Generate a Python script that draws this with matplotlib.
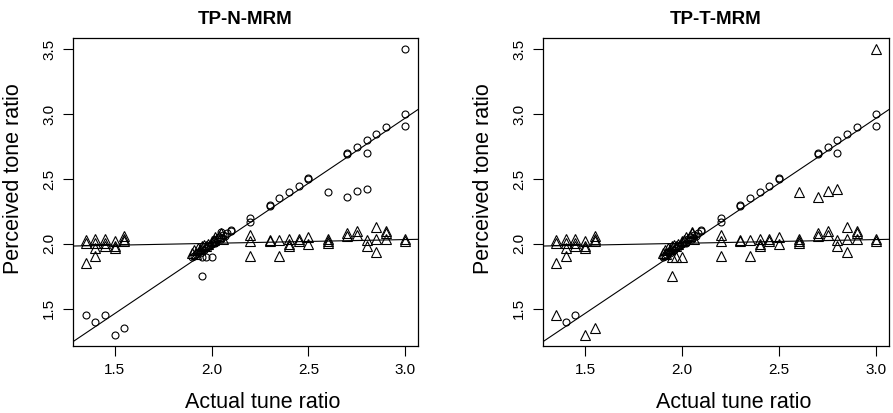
import matplotlib
matplotlib.use("Agg")
import matplotlib.pyplot as plt

plt.rcParams['font.family'] = ['Liberation Sans', 'DejaVu Sans']

titles = ["TP-N-MRM", "TP-T-MRM"]
xlabel = "Actual tune ratio"
ylabel = "Perceived tone ratio"

# each point: actual ratio, perceived ratio, group in TP-N-MRM, group in TP-T-MRM
# group "a" = follows the actual ratio (circles), "b" = stays near 2.0 (triangles)
actual = [
    1.35, 1.40, 1.45, 1.50, 1.55,
    1.35, 1.35, 1.35, 1.40, 1.40, 1.40, 1.40, 1.45, 1.45, 1.45,
    1.50, 1.50, 1.50, 1.55, 1.55, 1.55,
    1.90, 1.91, 1.92, 1.93, 1.94, 1.95, 1.96, 1.97, 1.98, 1.99, 2.00,
    2.01, 2.02, 2.03, 2.04, 2.05, 2.06, 2.07, 2.08, 2.10, 2.10,
    1.95, 1.97, 2.00, 1.95, 2.05,
    1.90, 1.91, 1.92, 1.93, 1.94, 1.95, 1.96, 1.97, 1.98, 2.00,
    2.01, 2.02, 2.04, 2.05, 2.06,
    2.20, 2.20, 2.20, 2.30, 2.30, 2.35, 2.35, 2.40, 2.40, 2.40,
    2.45, 2.45, 2.50, 2.50, 2.60, 2.60, 2.60, 2.70, 2.70, 2.75, 2.75,
    2.80, 2.80, 2.85, 2.85, 2.85, 2.90, 2.90, 2.90, 3.00, 3.00,
    2.20, 2.20, 2.30, 2.30, 2.35, 2.40, 2.45, 2.50, 2.50,
    2.60, 2.70, 2.70, 2.70, 2.75, 2.75, 2.80, 2.80, 2.80,
    2.85, 2.90, 3.00, 3.00, 3.00,
]
perceived = [
    1.45, 1.40, 1.45, 1.30, 1.35,
    2.03, 2.01, 1.85, 2.04, 2.01, 1.97, 1.91, 2.04, 2.01, 1.98,
    2.02, 1.98, 1.97, 2.06, 2.04, 2.02,
    1.90, 1.91, 1.92, 1.94, 1.93, 1.96, 1.95, 1.97, 1.98, 1.99, 2.00,
    2.02, 2.01, 2.04, 2.05, 2.04, 2.07, 2.06, 2.08, 2.10, 2.11,
    1.90, 1.90, 1.90, 1.75, 2.09,
    1.93, 1.95, 1.92, 1.97, 1.96, 1.98, 1.99, 1.98, 2.00, 2.02,
    2.03, 2.05, 2.06, 2.08, 2.04,
    2.07, 2.02, 1.91, 2.03, 2.02, 2.03, 1.91, 2.04, 2.00, 1.98,
    2.04, 2.02, 2.05, 2.00, 2.04, 2.02, 2.01, 2.08, 2.06, 2.10, 2.07,
    2.03, 1.98, 2.13, 2.04, 1.94, 2.10, 2.08, 2.04, 2.04, 2.02,
    2.20, 2.17, 2.30, 2.29, 2.35, 2.40, 2.45, 2.51, 2.50,
    2.40, 2.70, 2.69, 2.36, 2.75, 2.41, 2.80, 2.70, 2.42,
    2.85, 2.90, 3.50, 3.00, 2.91,
]
group_n = list(
    "aaaaa"
    "bbbbbbbbbbbbbbbb"
    "aaaaaaaaaaaaaaaaaaaaa"
    "aaaaa"
    "bbbbbbbbbbbbbbb"
    "bbbbbbbbbbbbbbbbbbbbbbbbbbbbbbb"
    "aaaaaaaaa" "aaaaaaaaa" "aaaaa"
)
group_t = list(
    "baabb"
    "bbbbbbbbbbbbbbbb"
    "aaaaaaaaaaaaaaaaaaaaa"
    "bbbbb"
    "bbbbbbbbbbbbbbb"
    "bbbbbbbbbbbbbbbbbbbbbbbbbbbbbbb"
    "aaaaaaaaa" "baababaab" "aabaa"
)

# fitted lines (intercept, slope)
fit_a = (-0.045, 1.005)
fit_b = (1.946, 0.029)

fig = plt.figure(figsize=(8.93, 4.13), dpi=100)
positions = [[73 / 893, 67 / 413, 345 / 893, 308 / 413],
             [543 / 893, 67 / 413, 346 / 893, 308 / 413]]

for pos, title, groups in zip(positions, titles, [group_n, group_t]):
    ax = fig.add_axes(pos)
    xa = [x for x, g in zip(actual, groups) if g == "a"]
    ya = [y for y, g in zip(perceived, groups) if g == "a"]
    xb = [x for x, g in zip(actual, groups) if g == "b"]
    yb = [y for y, g in zip(perceived, groups) if g == "b"]
    ax.plot(xa, ya, "o", mfc="none", mec="black", ms=5, mew=0.8, ls="none")
    ax.plot(xb, yb, "^", mfc="none", mec="black", ms=7, mew=0.8, ls="none")
    ax.axline((0, fit_a[0]), slope=fit_a[1], color="black", lw=0.8)
    ax.axline((0, fit_b[0]), slope=fit_b[1], color="black", lw=0.8)

    # R-style 4% padding of the data range
    xmin, xmax = min(actual), max(actual)
    ymin, ymax = min(perceived), max(perceived)
    dx, dy = 0.04 * (xmax - xmin), 0.04 * (ymax - ymin)
    ax.set_xlim(xmin - dx, xmax + dx)
    ax.set_ylim(ymin - dy, ymax + dy)
    ax.set_xticks([1.5, 2.0, 2.5, 3.0])
    ax.set_yticks([1.5, 2.0, 2.5, 3.0, 3.5])
    ax.tick_params(direction="out", length=7, width=0.8, labelsize=11, pad=5)
    ax.tick_params(axis="y", labelrotation=90, pad=5)
    for lab in ax.get_yticklabels():
        lab.set_va("center")
    for sp in ax.spines.values():
        sp.set_linewidth(0.9)

    ax.set_title(title, fontsize=13.5, fontweight="bold", pad=10)
    ax.set_xlabel(xlabel, fontsize=15.5)
    ax.set_ylabel(ylabel, fontsize=15.5)
    ax.xaxis.set_label_coords(0.551, -0.148)
    ax.yaxis.set_label_coords(-0.142, 0.542)

plt.savefig("out.png", dpi=100)
